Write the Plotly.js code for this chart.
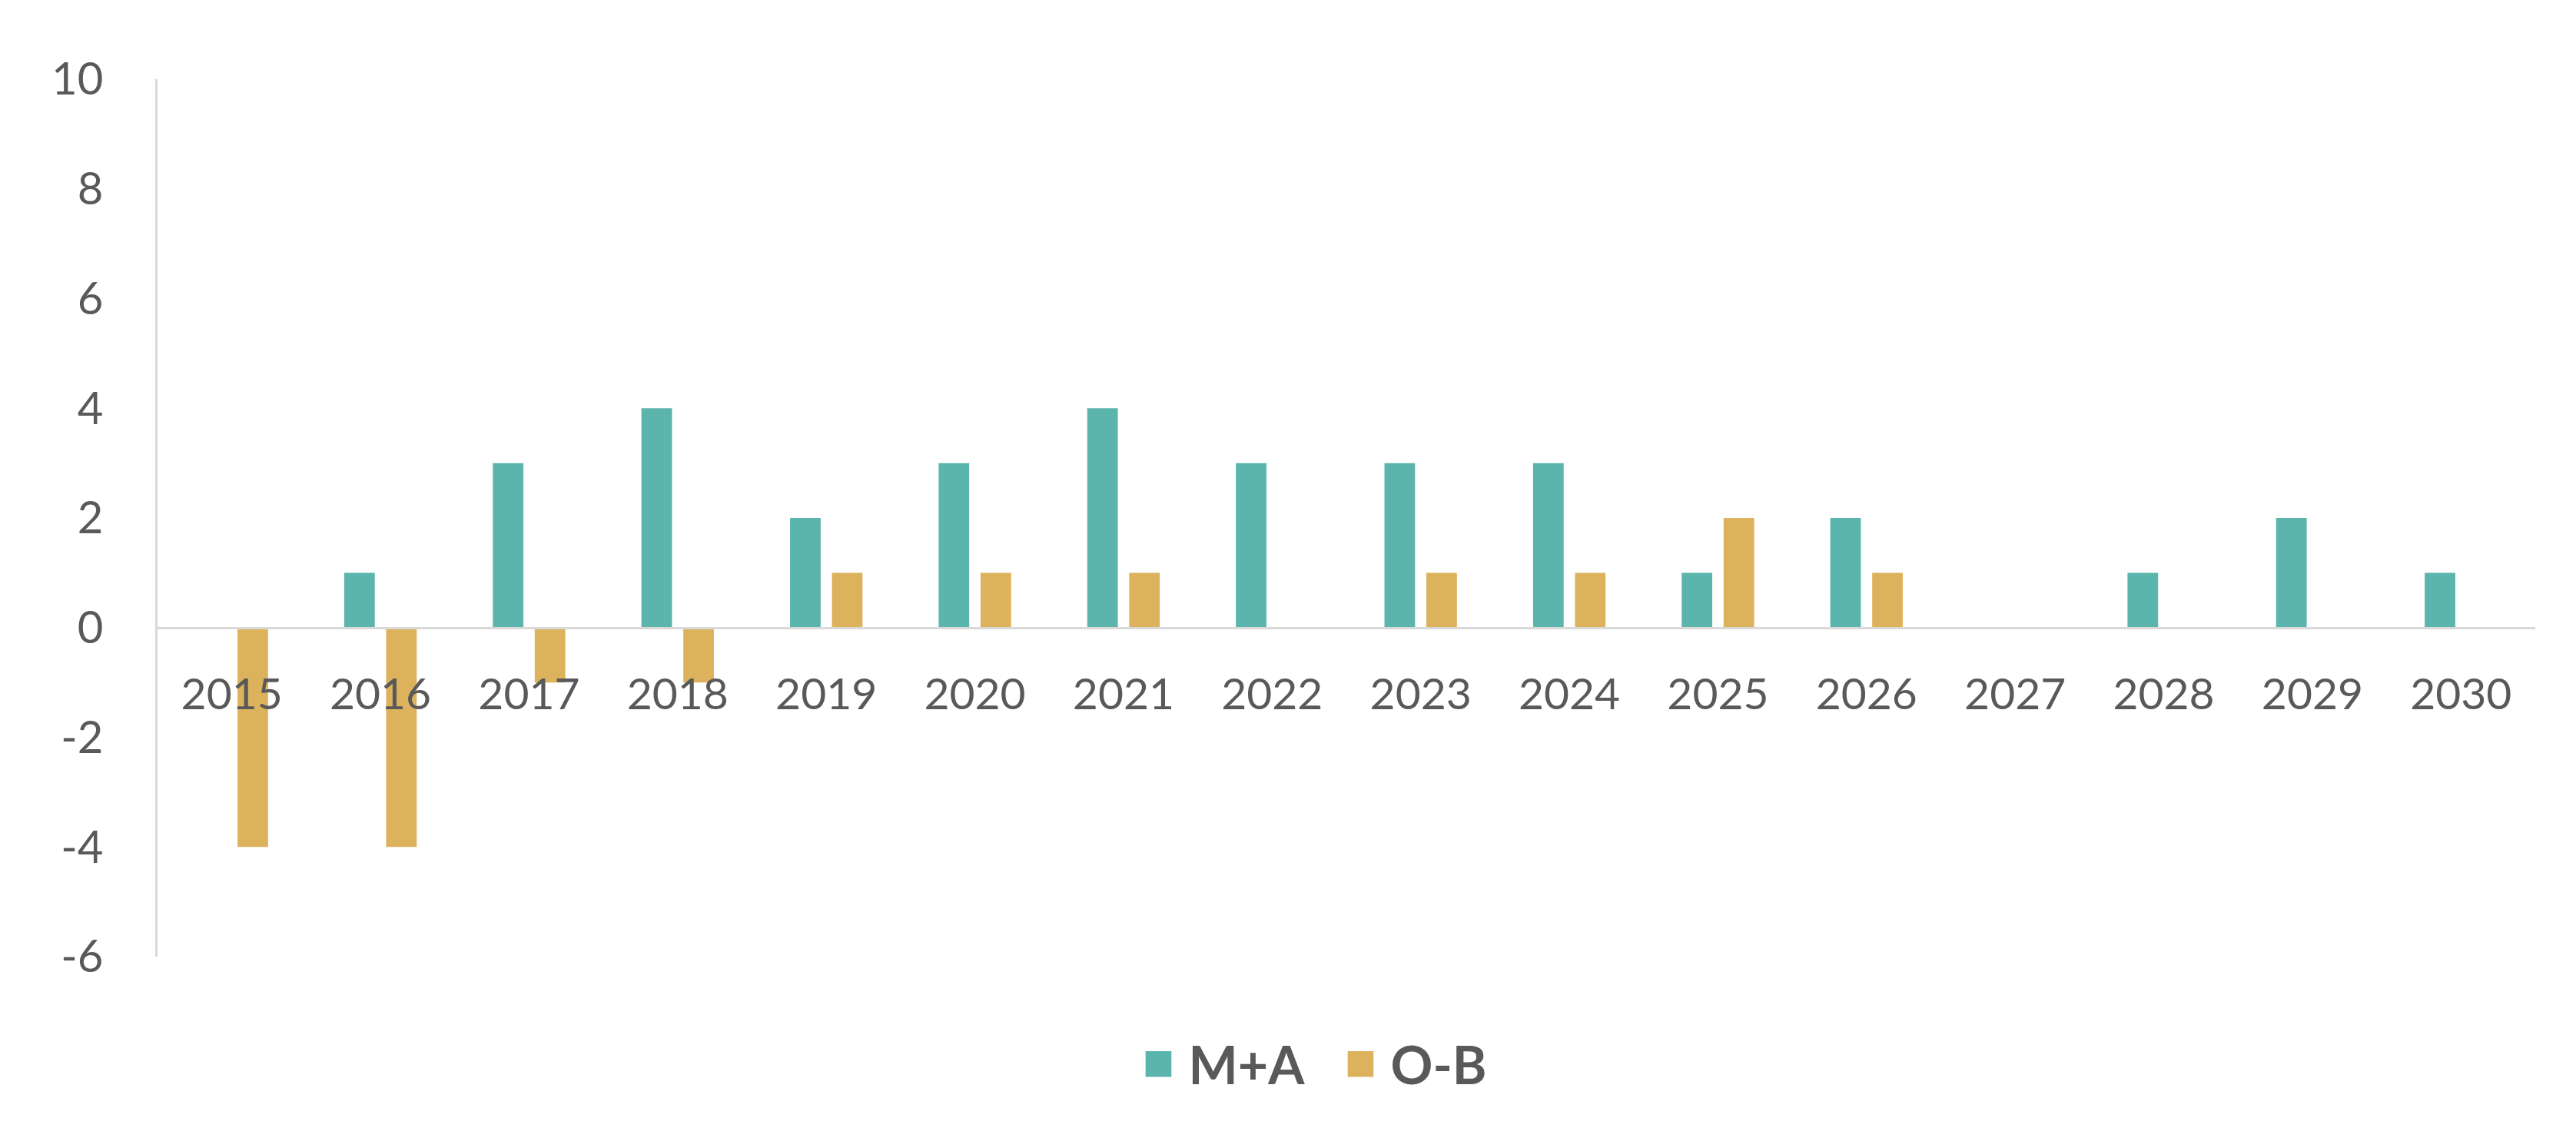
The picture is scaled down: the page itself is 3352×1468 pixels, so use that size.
<!DOCTYPE html>
<html>
<head>
<meta charset="utf-8">
<script src="https://cdn.plot.ly/plotly-3.0.1.min.js"></script>
<style>html,body{margin:0;padding:0;background:#fff;}</style>
</head>
<body>
<div id="chart" style="width:3352px;height:1468px;"></div>
<script>
const years = ['2015','2016','2017','2018','2019','2020','2021','2022','2023','2024','2025','2026','2027','2028','2029','2030'];
const maValues = [0, 1, 3, 4, 2, 3, 4, 3, 3, 3, 1, 2, 0, 1, 2, 1];
const obValues = [-4, -4, -1, -1, 1, 1, 1, 0, 1, 1, 2, 1, 0, 0, 0, 0];
const seriesNames = ['M+A', 'O-B'];
const yTicks = [-6, -4, -2, 0, 2, 4, 6, 8, 10];

const textColor = '#595959';
const fontFam = 'Lato, "Open Sans", sans-serif';

const traces = [
  {type: 'bar', name: seriesNames[0], x: years, y: maValues, marker: {color: '#5BB5AD'}, hoverinfo: 'x+y'},
  {type: 'bar', name: seriesNames[1], x: years, y: obValues, marker: {color: '#DCB35C'}, hoverinfo: 'x+y'}
];

const layout = {
  width: 3352, height: 1468,
  margin: {l: 205, r: 53, t: 103, b: 223},
  paper_bgcolor: '#ffffff', plot_bgcolor: '#ffffff',
  barmode: 'group', bargap: 0.436, bargroupgap: 0.27,
  font: {family: fontFam, color: textColor},
  xaxis: {
    type: 'category', anchor: 'free', position: 0.375,
    showline: true, linecolor: '#D9D9D9', linewidth: 3,
    showgrid: false, zeroline: false, ticks: '',
    tickfont: {size: 57, color: textColor, family: fontFam},
    ticklabelstandoff: 36
  },
  yaxis: {
    range: [-6, 10], tickvals: yTicks, ticktext: yTicks.map(String),
    showline: true, linecolor: '#D9D9D9', linewidth: 3,
    showgrid: false, zeroline: false, ticks: '',
    tickfont: {size: 58, color: textColor, family: fontFam},
    ticklabelstandoff: 56
  },
  showlegend: true,
  legend: {
    orientation: 'h', x: 0.4995, xanchor: 'center', y: -0.1226, yanchor: 'middle',
    font: {size: 68, color: textColor, family: fontFam, weight: 'bold'},
    itemwidth: 49, entrywidth: 199, tracegroupgap: 0
  }
};

Plotly.newPlot('chart', traces, layout, {staticPlot: true}).then(function(gd){
  gd.querySelectorAll('.legend .legendpoints path').forEach(function(p){
    p.setAttribute('transform', 'translate(20,0) scale(2.8)');
  });
});
</script>
</body>
</html>
